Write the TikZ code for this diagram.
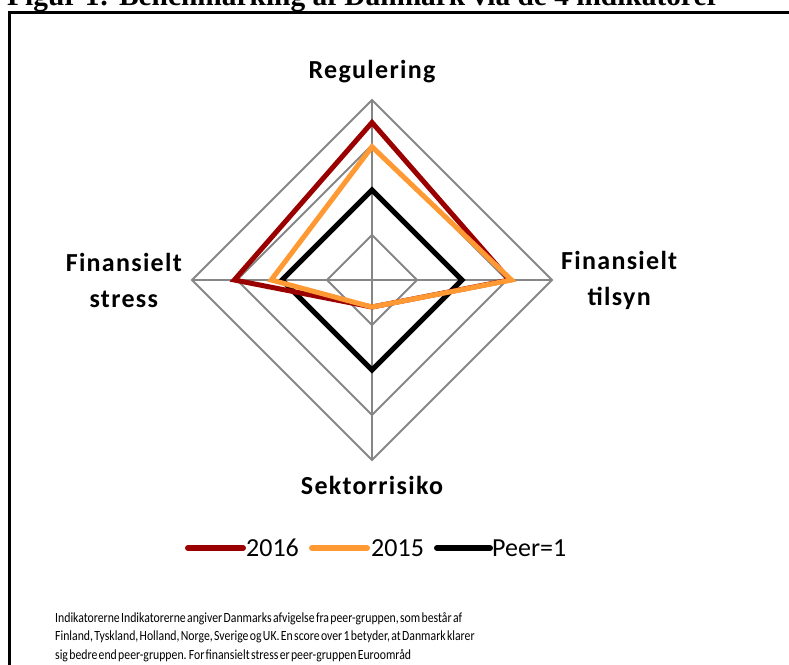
\documentclass[tikz,border=0pt]{standalone}
\usepackage{fontspec}
\setmainfont{Carlito}
\newfontfamily\titlefont{Liberation Serif}
\newfontfamily\labelfont[LetterSpace=5]{Carlito}
\newfontfamily\notefont[FakeStretch=0.84, WordSpace=0.5]{Carlito}
\usetikzlibrary{positioning}
\definecolor{red16}{RGB}{155,0,0}
\definecolor{orange15}{RGB}{255,153,51}
\definecolor{gridgray}{RGB}{134,134,134}

\begin{document}
\begin{tikzpicture}[x=1pt, y=1pt,
    gridline/.style={draw=gridgray, line width=2pt},
    series/.style={line width=5pt, line join=miter},
    axislabel/.style={font=\labelfont\fontsize{26}{36}\selectfont\bfseries, align=center, inner sep=0pt},
    legtext/.style={font=\fontsize{26}{30}\selectfont, inner sep=0pt},
    legline/.style={line width=6pt, line cap=round}
]
\useasboundingbox (0,0) rectangle (789,-664);
\clip (0,0) rectangle (789,-664);
\fill[white] (0,0) rectangle (789,-664);

% title, cut off by the top edge
\node[anchor=base west, inner sep=0pt,
      font=\titlefont\fontsize{29.4}{30}\selectfont\bfseries] (title) at (7,-5)
      {Figur 1: Benchmarking af Danmark via de 4 indikatorer};
\draw[line width=3pt] (9,-12) rectangle (820,-700);

% radar chart
\coordinate (c) at (372,-280);
\begin{scope}[shift={(c)}, x=90pt, y=90pt]
  \foreach \r in {0.5,1,1.5,2}
    \draw[gridline] (0,\r) -- (\r,0) -- (0,-\r) -- (-\r,0) -- cycle;
  \foreach \a in {0,90,180,270}
    \draw[gridline] (0,0) -- (\a:2);
  \draw[series, black]    (0,1) -- (1,0) -- (0,-1) -- (-1,0) -- cycle;
  \draw[series, red16]    (0,1.75) -- (1.53,0) -- (0,-0.3) -- (-1.53,0) -- cycle;
  \draw[series, orange15] (0,1.48) -- (1.55,0) -- (0,-0.3) -- (-1.12,0) -- cycle;
  \coordinate (vtop) at (0,2);
  \coordinate (vright) at (2,0);
  \coordinate (vbottom) at (0,-2);
  \coordinate (vleft) at (-2,0);
\end{scope}

\node[axislabel, above=17pt of vtop]    (reg)  {Regulering};
\node[axislabel, right=9pt of vright]   (tils) {Finansielt\\tilsyn};
\node[axislabel, below=16pt of vbottom] (sekt) {Sektorrisiko};
\node[axislabel, left=10pt of vleft]    (stre) {Finansielt\\stress};

% legend
\draw[legline, red16] (188,-548) coordinate (k16) -- ++(55,0) coordinate (k16e);
\node[legtext, right=3pt of k16e] (t16) {2016};
\draw[legline, orange15] (312,-548) coordinate (k15) -- ++(55,0) coordinate (k15e);
\node[legtext, right=4pt of k15e] (t15) {2015};
\draw[legline, black] (437,-548) coordinate (kp) -- ++(53,0) coordinate (kpe);
\node[legtext, right=2pt of kpe] (tp) {Peer=1};

% note
\node[anchor=base west, align=left, inner sep=0pt,
      font=\notefont\fontsize{14}{18.3}\selectfont] (note) at (55,-659)
  {Indikatorerne Indikatorerne angiver Danmarks afvigelse fra peer-gruppen, som består af\\
   Finland, Tyskland, Holland, Norge, Sverige og UK. En score over 1 betyder, at Danmark klarer\\
   sig bedre end peer-gruppen. For finansielt stress er peer-gruppen Euroområd};
\end{tikzpicture}
\end{document}
